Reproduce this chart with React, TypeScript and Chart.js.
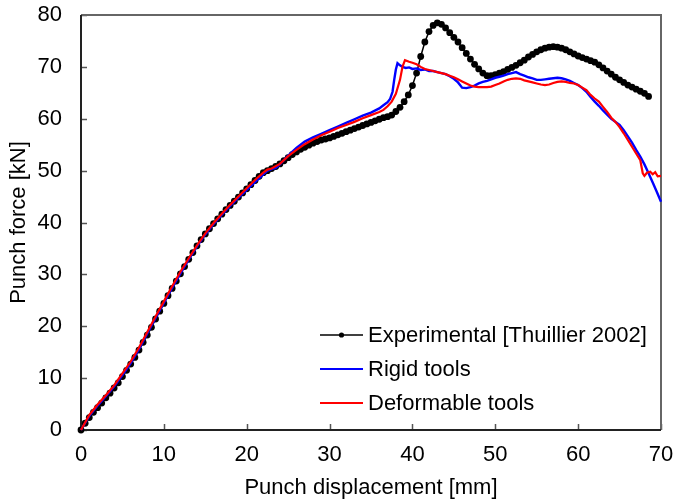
import React, { useEffect, useRef } from "react";
import { Chart, registerables } from "chart.js";

Chart.register(...registerables);

const xTickValues = [0, 10, 20, 30, 40, 50, 60, 70];
const yTickValues = [0, 10, 20, 30, 40, 50, 60, 70, 80];

const expX = [
  0, 0.5, 1, 1.5, 2, 2.5, 3, 3.5, 4, 4.5, 5, 5.5, 6, 6.5, 7, 7.5, 8, 8.5, 9, 9.5,
  10, 10.5, 11, 11.5, 12, 12.5, 13, 13.5, 14, 14.5, 15, 15.5, 16, 16.5, 17, 17.5, 18, 18.5, 19, 19.5,
  20, 20.5, 21, 21.5, 22, 22.5, 23, 23.5, 24, 24.5, 25, 25.5, 26, 26.5, 27, 27.5, 28, 28.5, 29, 29.5,
  30, 30.5, 31, 31.5, 32, 32.5, 33, 33.5, 34, 34.5, 35, 35.5, 36, 36.5, 37, 37.5, 38, 38.5, 39, 39.5,
  40, 40.5, 41, 41.5, 42, 42.5, 43, 43.5, 44, 44.5, 45, 45.5, 46, 46.5, 47, 47.5, 48, 48.5, 49, 49.5,
  50, 50.5, 51, 51.5, 52, 52.5, 53, 53.5, 54, 54.5, 55, 55.5, 56, 56.5, 57, 57.5, 58, 58.5, 59, 59.5,
  60, 60.5, 61, 61.5, 62, 62.5, 63, 63.5, 64, 64.5, 65, 65.5, 66, 66.5, 67, 67.5, 68, 68.5,
];
const expY = [
  0, 1.3, 2.4, 3.4, 4.3, 5.2, 6.2, 7.1, 8.1, 9.1, 10.3, 11.5, 12.7, 14.0, 15.4, 16.9, 18.3, 19.8, 21.4, 22.9,
  24.4, 25.9, 27.3, 28.7, 30.1, 31.5, 32.9, 34.2, 35.5, 36.7, 37.8, 38.8, 39.8, 40.7, 41.6, 42.5, 43.3, 44.1, 44.9, 45.7,
  46.5, 47.3, 48.1, 48.9, 49.6, 50.0, 50.4, 50.8, 51.3, 51.9, 52.5, 53.1, 53.6, 54.1, 54.5, 54.9, 55.3, 55.6, 55.9, 56.1,
  56.3, 56.6, 56.9, 57.2, 57.5, 57.8, 58.1, 58.4, 58.7, 59.0, 59.3, 59.6, 59.9, 60.2, 60.4, 60.7, 61.4, 62.2, 63.3, 64.6,
  66.4, 68.8, 72.0, 74.8, 76.8, 78.0, 78.5, 78.2, 77.5, 76.6, 75.7, 74.8, 73.7, 72.6, 71.5, 70.5, 69.6, 68.8, 68.3, 68.3,
  68.5, 68.8, 69.1, 69.5, 69.9, 70.3, 70.8, 71.3, 71.9, 72.4, 72.9, 73.3, 73.6, 73.8, 73.9, 73.8, 73.6, 73.3, 72.9, 72.5,
  72.1, 71.8, 71.5, 71.2, 70.9, 70.4, 69.8, 69.2, 68.6, 68.0, 67.5, 67.0, 66.5, 66.1, 65.7, 65.3, 64.9, 64.3,
];

const rigidX = [
  0, 1, 2, 3, 4, 5, 6, 7, 8, 9, 10, 11, 12, 13, 14, 15, 16, 17, 18, 19, 20, 21, 22, 22.5, 23, 23.5, 24, 25,
  26, 27, 28, 29, 30, 31, 32, 33, 34, 35, 36, 36.5, 37, 37.3, 37.6, 37.8, 38.0, 38.2, 38.5, 38.8, 39.2, 39.6,
  40, 40.5, 41, 41.5, 42, 42.5, 43, 43.5, 44, 44.5, 45, 45.5, 46, 46.5, 47, 47.5, 48, 48.5, 49, 49.5,
  50, 50.5, 51, 51.5, 52, 52.5, 53, 53.5, 54, 54.5, 55, 55.5, 56, 56.5, 57, 57.5, 58, 58.5, 59, 59.5,
  60, 60.5, 61, 61.5, 62, 62.5, 63, 63.5, 64, 64.5, 65, 65.5, 66, 66.5, 67, 67.5, 68, 68.5, 69, 69.5, 70,
];
const rigidY = [
  0, 2.7, 4.7, 6.5, 8.4, 10.6, 12.9, 15.6, 18.6, 21.6, 24.5, 27.4, 30.2, 32.9, 35.4, 37.7, 39.7, 41.5, 43.2, 44.8, 46.3, 47.8, 49.3, 50.0, 50.3, 50.5, 51.2, 52.9,
  54.4, 55.6, 56.4, 57.1, 57.8, 58.5, 59.2, 59.9, 60.6, 61.2, 62.0, 62.6, 63.2, 63.8, 65.2, 67.5, 69.5, 70.7, 70.3, 70.0, 69.8, 69.9,
  69.6, 69.7, 69.4, 69.5, 69.2, 69.2, 69.0, 68.8, 68.6, 68.2, 67.7, 67.0, 66.0, 65.9, 66.1, 66.4, 66.8, 67.1, 67.3, 67.6,
  67.9, 68.1, 68.3, 68.6, 68.8, 69.0, 68.6, 68.3, 68.0, 67.8, 67.5, 67.5, 67.6, 67.7, 67.8, 67.9, 67.8, 67.6, 67.3, 66.9,
  66.5, 65.9, 65.2, 64.2, 63.3, 62.5, 61.6, 60.8, 60.0, 59.4, 58.8, 57.8, 56.6, 55.4, 54.0, 52.7, 51.2, 49.5, 47.7, 45.9, 44.0,
];

const deformX = [
  0, 1, 2, 3, 4, 5, 6, 7, 8, 9, 10, 11, 12, 13, 14, 15, 16, 17, 18, 19, 20, 21, 22, 22.5, 23, 24, 25,
  26, 27, 28, 29, 30, 31, 32, 33, 34, 35, 36, 36.5, 37, 37.5, 38, 38.5, 38.8, 39.1, 39.6,
  40, 40.5, 41, 41.5, 42, 42.5, 43, 43.5, 44, 44.5, 45, 45.5, 46, 46.5, 47, 47.5, 48, 48.5, 49, 49.5,
  50, 50.5, 51, 51.5, 52, 52.5, 53, 53.5, 54, 54.5, 55, 55.5, 56, 56.5, 57, 57.5, 58, 58.5, 59, 59.5,
  60, 60.5, 61, 61.5, 62, 62.5, 63, 63.5, 64, 64.5, 65, 65.5, 66, 66.5, 67, 67.5, 67.8, 68, 68.3, 68.7, 69, 69.3, 69.6, 70,
];
const deformY = [
  0, 2.9, 4.9, 6.7, 8.6, 10.9, 13.2, 15.9, 18.9, 21.9, 24.8, 27.7, 30.5, 33.1, 35.6, 37.9, 39.9, 41.7, 43.4, 45.0, 46.6, 48.2, 49.6, 50.2, 50.4, 51.3, 52.8,
  54.0, 55.1, 56.0, 56.8, 57.5, 58.2, 58.8, 59.4, 60.1, 60.7, 61.3, 61.7, 62.4, 63.3, 64.8, 67.5, 70.0, 71.3, 71.0,
  70.8, 70.5, 70.0, 69.6, 69.4, 69.2, 69.0, 68.8, 68.6, 68.3, 68.0, 67.6, 67.2, 66.8, 66.4, 66.2, 66.1, 66.1, 66.1, 66.2,
  66.5, 66.8, 67.2, 67.5, 67.7, 67.8, 67.7, 67.4, 67.2, 67.0, 66.8, 66.6, 66.5, 66.6, 66.9, 67.1, 67.2, 67.1, 66.9, 66.8,
  66.5, 66.0, 65.5, 64.6, 63.9, 63.3, 62.3, 61.3, 60.2, 59.4, 58.4, 57.2, 55.9, 54.6, 53.3, 52.0, 49.5, 49.0, 49.6, 49.8, 49.3, 49.7, 48.9, 49.0,
];

const seriesNames = ["Experimental [Thuillier 2002]", "Rigid tools", "Deformable tools"];
const seriesColors = ["#000000", "#0000ff", "#ff0000"];
const xTitle = "Punch displacement [mm]";
const yTitle = "Punch force [kN]";

const FONT = "'Liberation Sans', Arial, sans-serif";

const toPoints = (xs: number[], ys: number[]) => xs.map((x, i) => ({ x, y: ys[i] }));

const zeroPadding = (s: any) => {
  s.paddingTop = 0;
  s.paddingBottom = 0;
  s.paddingLeft = 0;
  s.paddingRight = 0;
};

const framePlugin = {
  id: "frame",
  beforeDatasetsDraw(chart: any) {
    const { ctx, chartArea } = chart;
    const { left, right, top, bottom } = chartArea;
    const xs = chart.scales.x;
    const ys = chart.scales.y;
    ctx.save();
    ctx.strokeStyle = "#555555";
    ctx.lineWidth = 1.5;
    ctx.beginPath();
    xTickValues.forEach((v) => {
      const px = Math.round(xs.getPixelForValue(v)) + 0.5;
      ctx.moveTo(px, bottom);
      ctx.lineTo(px, bottom - 6);
    });
    yTickValues.forEach((v) => {
      const py = Math.round(ys.getPixelForValue(v)) + 0.5;
      ctx.moveTo(left, py);
      ctx.lineTo(left + 6, py);
    });
    ctx.stroke();
    ctx.strokeStyle = "#666666";
    ctx.lineWidth = 2;
    ctx.beginPath();
    ctx.moveTo(left, top);
    ctx.lineTo(right, top);
    ctx.lineTo(right, bottom);
    ctx.stroke();
    ctx.strokeStyle = "#222222";
    ctx.beginPath();
    ctx.moveTo(left, top);
    ctx.lineTo(left, bottom);
    ctx.lineTo(right, bottom);
    ctx.stroke();
    ctx.restore();
  },
  afterDraw(chart: any) {
    const { ctx, chartArea } = chart;
    const rowY = [chartArea.top + 320, chartArea.top + 354, chartArea.top + 388];
    const x1 = chartArea.left + 239;
    const x2 = chartArea.left + 282;
    ctx.save();
    ctx.font = `22px ${FONT}`;
    ctx.textBaseline = "middle";
    ctx.textAlign = "left";
    seriesNames.forEach((name, i) => {
      const y = rowY[i];
      ctx.strokeStyle = seriesColors[i];
      ctx.lineWidth = i === 0 ? 1.5 : 2;
      ctx.beginPath();
      ctx.moveTo(x1, y);
      ctx.lineTo(x2, y);
      ctx.stroke();
      if (i === 0) {
        ctx.fillStyle = "#000000";
        ctx.beginPath();
        ctx.arc((x1 + x2) / 2, y, 2.6, 0, Math.PI * 2);
        ctx.fill();
      }
      ctx.fillStyle = "#000000";
      ctx.fillText(name, x2 + 5, y + 1);
    });
    ctx.restore();
  },
};

export default function App() {
  const ref = useRef<HTMLCanvasElement | null>(null);

  useEffect(() => {
    if (!ref.current) return;
    const chart = new Chart(ref.current, {
      type: "scatter",
      data: {
        datasets: [
          {
            label: seriesNames[0],
            data: toPoints(expX, expY),
            showLine: true,
            borderColor: seriesColors[0],
            borderWidth: 1.5,
            pointRadius: 3.4,
            pointBackgroundColor: seriesColors[0],
            pointBorderWidth: 0,
            order: 2,
            clip: false,
          },
          {
            label: seriesNames[1],
            data: toPoints(rigidX, rigidY),
            showLine: true,
            borderColor: seriesColors[1],
            borderWidth: 2.4,
            pointRadius: 0,
            order: 1,
            clip: false,
          },
          {
            label: seriesNames[2],
            data: toPoints(deformX, deformY),
            showLine: true,
            borderColor: seriesColors[2],
            borderWidth: 2.2,
            pointRadius: 0,
            order: 0,
            clip: false,
          },
        ] as any,
      },
      options: {
        responsive: false,
        animation: false,
        devicePixelRatio: 1,
        layout: { autoPadding: false, padding: { top: 15, right: 16, left: 0, bottom: 0 } },
        plugins: { legend: { display: false }, tooltip: { enabled: false } },
        scales: {
          x: {
            type: "linear",
            min: 0,
            max: 70,
            afterFit: (s: any) => {
              s.height = 72;
              zeroPadding(s);
            },
            afterBuildTicks: (s: any) => {
              s.ticks = xTickValues.map((v) => ({ value: v }));
            },
            grid: { display: false, drawTicks: false },
            border: { display: false },
            ticks: {
              padding: 12,
              color: "#000000",
              font: { family: FONT, size: 22 },
              maxRotation: 0,
            },
            title: {
              display: true,
              text: xTitle,
              color: "#000000",
              font: { family: FONT, size: 22 },
              padding: { top: 0, bottom: 1 },
            },
          },
          y: {
            type: "linear",
            min: 0,
            max: 80,
            afterFit: (s: any) => {
              s.width = 81;
              zeroPadding(s);
            },
            afterBuildTicks: (s: any) => {
              s.ticks = yTickValues.map((v) => ({ value: v }));
            },
            grid: { display: false, drawTicks: false },
            border: { display: false },
            ticks: {
              padding: 19,
              color: "#000000",
              font: { family: FONT, size: 22 },
            },
            title: {
              display: true,
              text: yTitle,
              color: "#000000",
              font: { family: FONT, size: 22 },
              padding: { top: 6, bottom: 0 },
            },
          },
        },
      },
      plugins: [framePlugin],
    });
    return () => chart.destroy();
  }, []);

  return (
    <div style={{ position: "fixed", left: 0, top: 0, width: 677, height: 502, background: "#ffffff" }}>
      <canvas ref={ref} width={677} height={502} style={{ display: "block", width: 677, height: 502 }} />
    </div>
  );
}
